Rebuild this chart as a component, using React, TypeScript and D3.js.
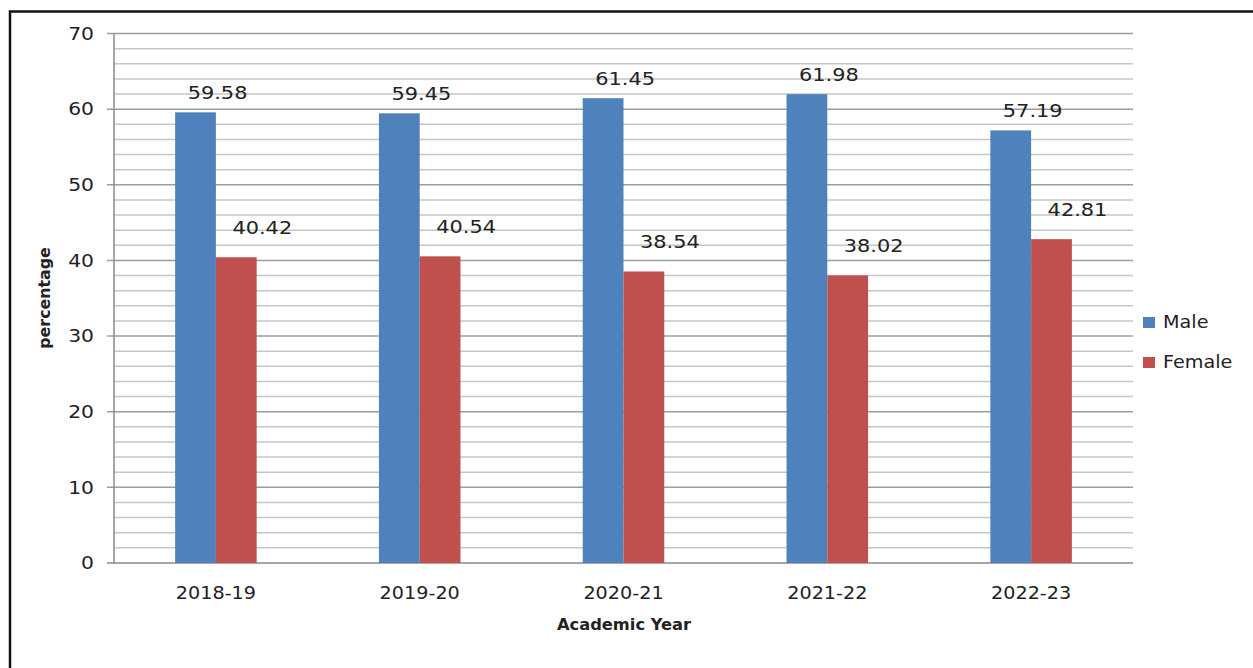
import { scaleBand, scaleLinear, range } from "d3";

const years = ["2018-19", "2019-20", "2020-21", "2021-22", "2022-23"];
const male = [59.58, 59.45, 61.45, 61.98, 57.19];
const female = [40.42, 40.54, 38.54, 38.02, 42.81];
const seriesNames = ["Male", "Female"];
const yTicks = [0, 10, 20, 30, 40, 50, 60, 70];

const W = 1253;
const H = 668;
const colors: Record<string, string> = { Male: "#4F81BD", Female: "#C0504D" };
const font = "'DejaVu Sans', Verdana, sans-serif";
const textColor = "#222";

// the source image is a bit stretched sideways, so the text is too
function Label(props: {
  x: number;
  y: number;
  size: number;
  anchor?: string;
  bold?: boolean;
  sx?: number;
  rotate?: number;
  children: any;
}) {
  const { x, y, size, anchor = "middle", bold, sx = 1.13, rotate = 0, children } = props;
  return (
    <text
      transform={`translate(${x},${y}) rotate(${rotate}) scale(${sx},1)`}
      dy="0.35em"
      textAnchor={anchor}
      fontFamily={font}
      fontSize={size}
      fontWeight={bold ? "bold" : "normal"}
      fill={textColor}
    >
      {children}
    </text>
  );
}

export default function App() {
  const left = 114;
  const right = 1133;
  const top = 33.5;
  const bottom = 563;

  const x0 = scaleBand<string>().domain(years).range([left, right]);
  const bw = x0.bandwidth();
  const x1 = scaleBand<string>().domain(seriesNames).range([bw * 0.3, bw * 0.7]);
  const y = scaleLinear().domain([0, 70]).range([bottom, top]);

  const minor = range(0, 71, 2).filter((v) => v % 10 !== 0);
  const values: Record<string, number[]> = { Male: male, Female: female };
  // label nudges, like excel put them
  const labelOff: Record<string, [number, number]> = { Male: [22, -20], Female: [26, -30] };

  return (
    <svg
      width={W}
      height={H}
      style={{ position: "absolute", left: 0, top: 0, background: "#fff" }}
    >
      <rect x={0} y={0} width={W} height={H} fill="#fff" />
      {/* outer frame, cut on right/bottom */}
      <rect x={10} y={11.5} width={W + 20} height={H + 20} fill="none" stroke="#111" strokeWidth={2.5} />

      {/* minor grid */}
      {minor.map((v) => (
        <line key={"m" + v} x1={left} x2={right} y1={y(v)} y2={y(v)} stroke="#c6c6c6" strokeWidth={1.5} />
      ))}
      {/* major grid + ticks */}
      {yTicks.map((v) => (
        <g key={"t" + v}>
          <line x1={left - 7} x2={right} y1={y(v)} y2={y(v)} stroke={v === 0 ? "#8a8a8a" : "#9c9c9c"} strokeWidth={1.5} />
          <Label x={94} y={y(v)} size={18} anchor="end">
            {v}
          </Label>
        </g>
      ))}
      <line x1={left} x2={left} y1={top} y2={bottom} stroke="#8a8a8a" strokeWidth={1.5} />

      {/* bars */}
      {years.map((yr, i) => {
        const gx = x0(yr)!;
        return (
          <g key={yr}>
            {seriesNames.map((s) => {
              const v = values[s][i];
              const bx = gx + x1(s)!;
              return (
                <g key={s}>
                  <rect x={bx} y={y(v)} width={x1.bandwidth()} height={bottom - y(v)} fill={colors[s]} />
                  <Label x={bx + x1.bandwidth() / 2 + labelOff[s][0]} y={y(v) + labelOff[s][1]} size={18.5}>
                    {v.toFixed(2)}
                  </Label>
                </g>
              );
            })}
            <Label x={gx + bw / 2} y={593} size={17}>
              {yr}
            </Label>
          </g>
        );
      })}

      {/* axis titles */}
      <Label x={624} y={625} size={15.5} bold sx={1.05}>
        Academic Year
      </Label>
      <Label x={45} y={298} size={15.5} bold sx={1.02} rotate={-90}>
        percentage
      </Label>

      {/* legend */}
      {seriesNames.map((s, i) => (
        <g key={"lg" + s}>
          <rect x={1143} y={317 + i * 40} width={12} height={11} fill={colors[s]} />
          <Label x={1163} y={322.5 + i * 40} size={17} anchor="start">
            {s}
          </Label>
        </g>
      ))}
    </svg>
  );
}
